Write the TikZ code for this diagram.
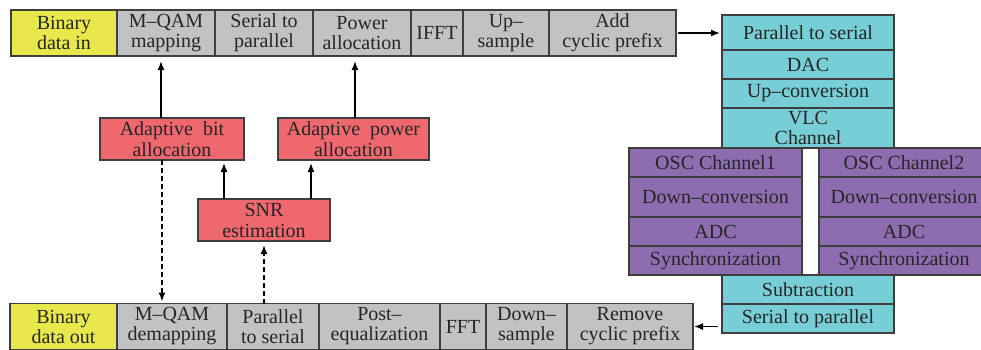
\documentclass[tikz,border=0pt]{standalone}
\usepackage{fontspec}
\setmainfont{Liberation Serif}
\usetikzlibrary{positioning,arrows.meta}
\definecolor{boxline}{RGB}{62,62,62}
\definecolor{yellowfill}{RGB}{232,231,76}
\definecolor{grayfill}{RGB}{194,194,196}
\definecolor{redfill}{RGB}{238,104,110}
\definecolor{cyanfill}{RGB}{119,206,214}
\definecolor{purplefill}{RGB}{141,108,175}
\tikzset{blocknode/.style={draw=boxline, line width=0.8pt, inner sep=0pt, outer sep=0pt, align=center, text=black!85, font=\fontsize{10}{10}\selectfont},
yellownode/.style={blocknode, fill=yellowfill, minimum height=23pt},
graynode/.style={blocknode, fill=grayfill, minimum height=23pt},
rednode/.style={blocknode, fill=redfill, minimum height=21pt, font=\fontsize{10}{10.5}\selectfont},
cyannode/.style={blocknode, fill=cyanfill, minimum width=86pt},
purplenode/.style={blocknode, fill=purplefill},}

\begin{document}
\begin{tikzpicture}[x=0.5pt, y=-0.5pt, >={Latex[length=4.5pt, width=3.5pt]}]
\useasboundingbox (0,0) rectangle (981,349);
\clip (0,0) rectangle (981,349);
% transmitter
\node [yellownode, minimum width=53pt] (bin) at (64,33) {Binary\\data in};
\node [graynode, minimum width=49pt] (map) [right=0pt of bin] {M--QAM\\mapping};
\node [graynode, minimum width=49pt] (stp) [right=0pt of map] {Serial to\\parallel};
\node [graynode, minimum width=49pt] (pwr) [right=0pt of stp] {Power\\allocation};
\node [graynode, minimum width=26pt] (ifft) [right=0pt of pwr] {IFFT};
\node [graynode, minimum width=43pt] (ups) [right=0pt of ifft] {Up--\\sample};
\node [graynode, minimum width=63.5pt] (acp) [right=0pt of ups] {Add\\cyclic prefix};
% channel
\node [cyannode, minimum height=17.5pt] (pts) at (808,32.5) {Parallel to serial};
\node [cyannode, minimum height=14.5pt] (dac) [below=0pt of pts] {DAC};
\node [cyannode, minimum height=14.5pt] (upc) [below=0pt of dac] {Up--conversion};
\node [cyannode, minimum height=20pt] (vlc) [below=0pt of upc] {VLC\\Channel};
\node [purplenode, minimum width=86.5pt, minimum height=14.5pt] (osca) at (715.5,162.5) {OSC Channel1};
\node [purplenode, minimum width=86.5pt, minimum height=20pt] (dwna) [below=0pt of osca] {Down--conversion};
\node [purplenode, minimum width=86.5pt, minimum height=14.5pt] (adca) [below=0pt of dwna] {ADC};
\node [purplenode, minimum width=86.5pt, minimum height=14.5pt] (syna) [below=0pt of adca] {Synchronization};
\node [purplenode, minimum width=85pt, minimum height=14.5pt] (oscb) at (904,162.5) {OSC Channel2};
\node [purplenode, minimum width=85pt, minimum height=20pt] (dwnb) [below=0pt of oscb] {Down--conversion};
\node [purplenode, minimum width=85pt, minimum height=14.5pt] (adcb) [below=0pt of dwnb] {ADC};
\node [purplenode, minimum width=85pt, minimum height=14.5pt] (synb) [below=0pt of adcb] {Synchronization};
\node [cyannode, minimum height=14.5pt, anchor=north] (sub) at (vlc.south |- syna.south) {Subtraction};
\node [cyannode, minimum height=14.5pt] (stpr) [below=0pt of sub] {Serial to parallel};
% receiver
\node [yellownode, minimum width=53.5pt] (bout) at (63.5,326.5) {Binary\\data out};
\node [graynode, minimum width=55pt] (demap) [right=0pt of bout] {M--QAM\\demapping};
\node [graynode, minimum width=46pt] (ptsr) [right=0pt of demap] {Parallel\\to serial};
\node [graynode, minimum width=60.5pt] (peq) [right=0pt of ptsr] {Post--\\equalization};
\node [graynode, minimum width=23pt] (fft) [right=0pt of peq] {FFT};
\node [graynode, minimum width=40.5pt] (dws) [right=0pt of fft] {Down--\\sample};
\node [graynode, minimum width=63pt] (rcp) [right=0pt of dws] {Remove\\cyclic prefix};
% adaptation
\node [rednode, minimum width=72pt] (bit) at (172,139) {Adaptive~~bit\\allocation};
\node [rednode, minimum width=75.5pt] (palloc) at (353.5,139) {Adaptive~~power\\allocation};
\node [rednode, minimum width=66pt] (snr) at (264,220) {SNR\\estimation};
\draw[line width=0.7pt, ->, shorten >=2.5pt] ([xshift=-5.5pt]bit.north) -- ([xshift=-5.5pt]bit.north |- map.south);
\draw[line width=0.7pt, ->, shorten >=2.5pt] ([xshift=0.75pt]palloc.north) -- ([xshift=0.75pt]palloc.north |- pwr.south);
\draw[line width=0.7pt, ->, shorten >=1.5pt] ([xshift=-20pt]snr.north) -- ([xshift=-20pt]snr.north |- bit.south);
\draw[line width=0.7pt, ->, shorten >=1.5pt] ([xshift=23.5pt]snr.north) -- ([xshift=23.5pt]snr.north |- palloc.south);
\draw[line width=0.7pt, ->, dash pattern=on 2.5pt off 1.5pt, shorten >=1pt] ([xshift=-5pt]bit.south) -- ([xshift=-5pt]bit.south |- demap.north);
\draw[line width=0.7pt, ->, dash pattern=on 2.5pt off 1.5pt, shorten >=2pt] (snr.south |- ptsr.north) -- (snr.south);
\draw[line width=0.7pt, ->, shorten <=1pt, shorten >=1pt] (acp.east) -- (acp.east -| pts.west);
\draw[line width=0.7pt, ->, shorten <=2pt, shorten >=0.5pt] (rcp.east -| stpr.west) -- (rcp.east);
\end{tikzpicture}
\end{document}
